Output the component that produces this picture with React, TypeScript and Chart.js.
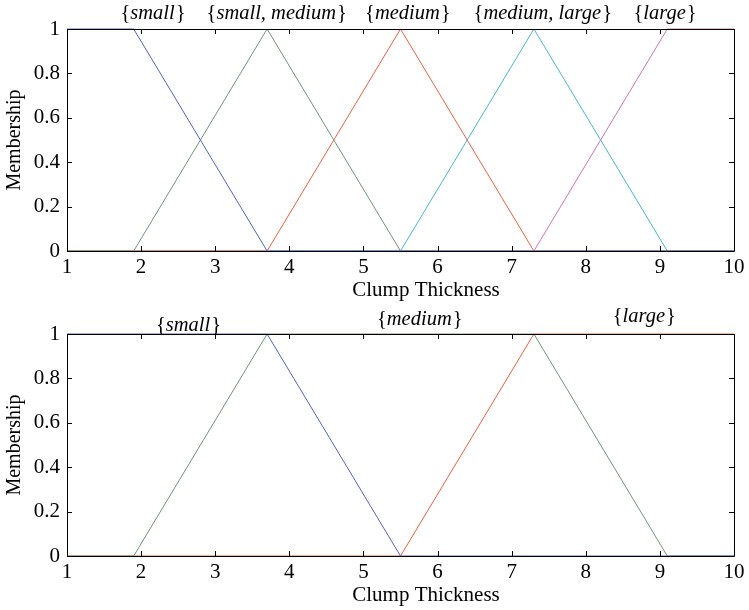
import React, { useEffect, useRef } from "react";
import { Chart, registerables } from "chart.js";

Chart.register(...registerables);

const FONT = "'Liberation Serif', 'Times New Roman', serif";

// X positions of the membership function breakpoints
const xs = [1, 1.9, 3.7, 5.5, 7.3, 9.1, 10];

// Top subplot series (values at xs)
const topSmall = [1, 1, 0, 0, 0, 0, 0];
const topSmallMedium = [0, 0, 1, 0, 0, 0, 0];
const topMedium = [0, 0, 0, 1, 0, 0, 0];
const topMediumLarge = [0, 0, 0, 0, 1, 0, 0];
const topLarge = [0, 0, 0, 0, 0, 1, 1];

// Bottom subplot series (values at xs)
const botSmall = [1, 1, 1, 0, 0, 0, 0];
const botMedium = [0, 0, 1, 1, 1, 0, 0];
const botLarge = [0, 0, 0, 0, 1, 1, 1];

const topLabels = ["small", "small, medium", "medium", "medium, large", "large"];
const topLabelX = [2.16, 3.83, 5.6, 7.42, 9.07];
const topLabelY = [1.068, 1.068, 1.068, 1.068, 1.068];

const botLabels = ["small", "medium", "large"];
const botLabelX = [2.64, 5.76, 8.79];
const botLabelY = [1.04, 1.063, 1.077];

const xTitle = "Clump Thickness";
const yTitle = "Membership";

const colorBlue = "#5262c4";
const colorGreen = "#6f9677";
const colorRed = "#f0603e";
const colorCyan = "#45b6d6";
const colorMagenta = "#d273b4";

const xTicks = [1, 2, 3, 4, 5, 6, 7, 8, 9, 10];
const yTicks = [0, 0.2, 0.4, 0.6, 0.8, 1];

const toPts = (vals: number[]) => xs.map((x, i) => ({ x, y: vals[i] }));

const frameAndLabels = (labels: string[], lx: number[], ly: number[]) => ({
  id: "frameAndLabels",
  afterDraw(chart: any) {
    const ctx = chart.ctx as CanvasRenderingContext2D;
    const { left, right, top, bottom } = chart.chartArea;
    const xs_ = chart.scales.x;
    const ys_ = chart.scales.y;
    ctx.save();
    ctx.strokeStyle = "#000";
    ctx.lineWidth = 1;
    ctx.beginPath();
    ctx.rect(Math.round(left) + 0.5, Math.round(top) + 0.5, Math.round(right - left), Math.round(bottom - top));
    ctx.stroke();
    const tl = 5;
    ctx.beginPath();
    xTicks.forEach((v) => {
      const p = Math.round(xs_.getPixelForValue(v)) + 0.5;
      ctx.moveTo(p, bottom);
      ctx.lineTo(p, bottom - tl);
      ctx.moveTo(p, top);
      ctx.lineTo(p, top + tl);
    });
    yTicks.forEach((v) => {
      const p = Math.round(ys_.getPixelForValue(v)) + 0.5;
      ctx.moveTo(left, p);
      ctx.lineTo(left + tl, p);
      ctx.moveTo(right, p);
      ctx.lineTo(right - tl, p);
    });
    ctx.stroke();

    ctx.fillStyle = "#000";
    ctx.textBaseline = "middle";

    // axis titles
    ctx.textAlign = "center";
    ctx.font = `21px ${FONT}`;
    ctx.fillText(xTitle, left + 359, bottom + 39);
    ctx.save();
    ctx.translate(15, (top + bottom) / 2);
    ctx.rotate(-Math.PI / 2);
    ctx.font = `20px ${FONT}`;
    ctx.fillText(yTitle, 0, 0);
    ctx.restore();

    // set labels
    ctx.textAlign = "left";
    const upright = `20.5px ${FONT}`;
    const italic = `italic 20.5px ${FONT}`;
    labels.forEach((lab, i) => {
      const cx = xs_.getPixelForValue(lx[i]);
      const cy = ys_.getPixelForValue(ly[i]);
      ctx.font = upright;
      const wb1 = ctx.measureText("{").width;
      const wb2 = ctx.measureText("}").width;
      ctx.font = italic;
      const wt = ctx.measureText(lab).width + 1;
      const total = wb1 + wt + wb2;
      let x = cx - total / 2;
      ctx.font = upright;
      ctx.fillText("{", x, cy);
      x += wb1;
      ctx.font = italic;
      ctx.fillText(lab, x, cy);
      x += wt;
      ctx.font = upright;
      ctx.fillText("}", x, cy);
    });
    ctx.restore();
  },
});

const makeOptions = () => ({
  animation: false as const,
  responsive: false,
  maintainAspectRatio: false,
  layout: { padding: { left: 0, right: 15, top: 29, bottom: 0 } },
  plugins: { legend: { display: false }, tooltip: { enabled: false } },
  elements: { point: { radius: 0 }, line: { borderWidth: 1, tension: 0 } },
  scales: {
    x: {
      type: "linear" as const,
      min: 1,
      max: 10,
      afterBuildTicks: (s: any) => {
        s.ticks = xTicks.map((v) => ({ value: v }));
      },
      afterFit: (s: any) => {
        s.height = 54;
      },
      grid: { display: false, drawTicks: false },
      border: { display: false },
      ticks: {
        color: "#000",
        font: { family: FONT, size: 21 },
        padding: 4,
        maxRotation: 0,
        autoSkip: false,
        callback: (v: any) => String(v),
      },
    },
    y: {
      type: "linear" as const,
      min: 0,
      max: 1,
      afterBuildTicks: (s: any) => {
        s.ticks = yTicks.map((v) => ({ value: v }));
      },
      afterFit: (s: any) => {
        s.width = 67;
      },
      grid: { display: false, drawTicks: false },
      border: { display: false },
      ticks: {
        color: "#000",
        font: { family: FONT, size: 21 },
        padding: 7,
        autoSkip: false,
        callback: (v: any) => String(Math.round(v * 10) / 10),
      },
    },
  },
});

const ds = (vals: number[], color: string) => ({
  data: toPts(vals),
  borderColor: color,
  backgroundColor: color,
  borderWidth: 1,
  pointRadius: 0,
  fill: false,
  clip: 2,
});

export default function App() {
  const ref1 = useRef<HTMLCanvasElement>(null);
  const ref2 = useRef<HTMLCanvasElement>(null);

  useEffect(() => {
    const c1 = new Chart(ref1.current as HTMLCanvasElement, {
      type: "line",
      data: {
        datasets: [
          ds(topSmall, colorBlue),
          ds(topSmallMedium, colorGreen),
          ds(topMedium, colorRed),
          ds(topMediumLarge, colorCyan),
          ds(topLarge, colorMagenta),
        ],
      },
      options: makeOptions() as any,
      plugins: [frameAndLabels(topLabels, topLabelX, topLabelY)],
    });
    const c2 = new Chart(ref2.current as HTMLCanvasElement, {
      type: "line",
      data: {
        datasets: [
          ds(botSmall, colorBlue),
          ds(botMedium, colorGreen),
          ds(botLarge, colorRed),
        ],
      },
      options: makeOptions() as any,
      plugins: [frameAndLabels(botLabels, botLabelX, botLabelY)],
    });
    return () => {
      c1.destroy();
      c2.destroy();
    };
  }, []);

  return (
    <div style={{ position: "absolute", left: 0, top: 0, width: 749, height: 610, background: "#fff" }}>
      <canvas ref={ref1} width={749} height={305} style={{ display: "block", width: 749, height: 305 }} />
      <canvas ref={ref2} width={749} height={305} style={{ display: "block", width: 749, height: 305 }} />
    </div>
  );
}
